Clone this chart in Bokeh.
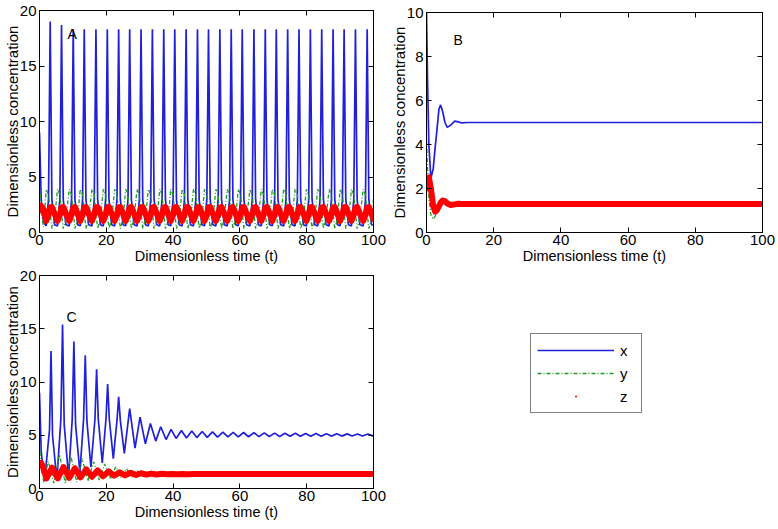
from bokeh.plotting import figure
from bokeh.layouts import row, column
from bokeh.models import Range1d, LinearAxis, FixedTicker, Legend, LegendItem, ColumnDataSource, Label
from bokeh.embed import file_html
from bokeh.resources import INLINE

FONT = "Liberation Sans"
BLUE = "#2020d8"
GREEN = "#1f9f1f"
RED = "#ff0000"

x_ticks = [0, 20, 40, 60, 80, 100]
y_ticks_AC = [0, 5, 10, 15, 20]
y_ticks_B = [0, 2, 4, 6, 8, 10]
legend_labels = ["x", "y", "z"]
panel_names = ["A", "B", "C"]

# ---------------- Panel A (sustained oscillations) ----------------
t_A = [0, 0.5, 1.2,
       2.0, 2.7, 3.2, 3.7, 4.5,
       5.4, 6.1, 6.6, 7.1, 7.9,
       8.9, 9.6, 10.1, 10.6, 11.4,
       12.2, 12.9, 13.4, 13.9, 14.7,
       15.7, 16.4, 16.9, 17.4, 18.2,
       19.1, 19.8, 20.3, 20.8, 21.6,
       22.5, 23.2, 23.7, 24.2, 25.0,
       25.8, 26.5, 27.0, 27.5, 28.3,
       29.2, 29.9, 30.4, 30.9, 31.7,
       32.6, 33.3, 33.8, 34.3, 35.1,
       36.0, 36.7, 37.2, 37.7, 38.5,
       39.3, 40.0, 40.5, 41.0, 41.8,
       42.7, 43.4, 43.9, 44.4, 45.2,
       46.1, 46.8, 47.3, 47.8, 48.6,
       49.4, 50.1, 50.6, 51.1, 51.9,
       52.8, 53.5, 54.0, 54.5, 55.3,
       56.2, 56.9, 57.4, 57.9, 58.7,
       59.5, 60.2, 60.7, 61.2, 62.0,
       63.0, 63.7, 64.2, 64.7, 65.5,
       66.4, 67.1, 67.6, 68.1, 68.9,
       69.7, 70.4, 70.9, 71.4, 72.2,
       73.1, 73.8, 74.3, 74.8, 75.6,
       76.5, 77.2, 77.7, 78.2, 79.0,
       79.9, 80.6, 81.1, 81.6, 82.4,
       83.3, 84.0, 84.5, 85.0, 85.8,
       86.7, 87.4, 87.9, 88.4, 89.2,
       90.0, 90.7, 91.2, 91.7, 92.5,
       93.4, 94.1, 94.6, 95.1, 95.9,
       96.9, 97.6, 98.1, 98.6, 99.4,
       100]
x_A = [9.0, 3.0, 0.9,
       0.6, 3.0, 19.0, 3.0, 0.7,
       0.6, 3.0, 18.7, 3.0, 0.7,
       0.6, 3.0, 18.3, 3.0, 0.7,
       0.6, 3.0, 18.3, 3.0, 0.7,
       0.6, 3.0, 18.3, 3.0, 0.7,
       0.6, 3.0, 18.3, 3.0, 0.7,
       0.6, 3.0, 18.3, 3.0, 0.7,
       0.6, 3.0, 18.3, 3.0, 0.7,
       0.6, 3.0, 18.3, 3.0, 0.7,
       0.6, 3.0, 18.3, 3.0, 0.7,
       0.6, 3.0, 18.3, 3.0, 0.7,
       0.6, 3.0, 18.3, 3.0, 0.7,
       0.6, 3.0, 18.3, 3.0, 0.7,
       0.6, 3.0, 18.3, 3.0, 0.7,
       0.6, 3.0, 18.3, 3.0, 0.7,
       0.6, 3.0, 18.3, 3.0, 0.7,
       0.6, 3.0, 18.3, 3.0, 0.7,
       0.6, 3.0, 18.3, 3.0, 0.7,
       0.6, 3.0, 18.3, 3.0, 0.7,
       0.6, 3.0, 18.3, 3.0, 0.7,
       0.6, 3.0, 18.3, 3.0, 0.7,
       0.6, 3.0, 18.3, 3.0, 0.7,
       0.6, 3.0, 18.3, 3.0, 0.7,
       0.6, 3.0, 18.3, 3.0, 0.7,
       0.6, 3.0, 18.3, 3.0, 0.7,
       0.6, 3.0, 18.3, 3.0, 0.7,
       0.6, 3.0, 18.3, 3.0, 0.7,
       0.6, 3.0, 18.3, 3.0, 0.7,
       0.6, 3.0, 18.3, 3.0, 0.7,
       0.65]
y_A = [4.3, 1.8, 0.5,
       3.9, 3.4, 1.8, 0.35, 1.2,
       3.9, 3.4, 1.8, 0.35, 1.2,
       3.9, 3.4, 1.8, 0.35, 1.2,
       3.9, 3.4, 1.8, 0.35, 1.2,
       3.9, 3.4, 1.8, 0.35, 1.2,
       3.9, 3.4, 1.8, 0.35, 1.2,
       3.9, 3.4, 1.8, 0.35, 1.2,
       3.9, 3.4, 1.8, 0.35, 1.2,
       3.9, 3.4, 1.8, 0.35, 1.2,
       3.9, 3.4, 1.8, 0.35, 1.2,
       3.9, 3.4, 1.8, 0.35, 1.2,
       3.9, 3.4, 1.8, 0.35, 1.2,
       3.9, 3.4, 1.8, 0.35, 1.2,
       3.9, 3.4, 1.8, 0.35, 1.2,
       3.9, 3.4, 1.8, 0.35, 1.2,
       3.9, 3.4, 1.8, 0.35, 1.2,
       3.9, 3.4, 1.8, 0.35, 1.2,
       3.9, 3.4, 1.8, 0.35, 1.2,
       3.9, 3.4, 1.8, 0.35, 1.2,
       3.9, 3.4, 1.8, 0.35, 1.2,
       3.9, 3.4, 1.8, 0.35, 1.2,
       3.9, 3.4, 1.8, 0.35, 1.2,
       3.9, 3.4, 1.8, 0.35, 1.2,
       3.9, 3.4, 1.8, 0.35, 1.2,
       3.9, 3.4, 1.8, 0.35, 1.2,
       3.9, 3.4, 1.8, 0.35, 1.2,
       3.9, 3.4, 1.8, 0.35, 1.2,
       3.9, 3.4, 1.8, 0.35, 1.2,
       3.9, 3.4, 1.8, 0.35, 1.2,
       3.0]
z_A = [2.0, 2.4, 2.1,
       1.05, 1.6, 2.25, 2.3, 1.7,
       1.05, 1.6, 2.25, 2.3, 1.7,
       1.05, 1.6, 2.25, 2.3, 1.7,
       1.05, 1.6, 2.25, 2.3, 1.7,
       1.05, 1.6, 2.25, 2.3, 1.7,
       1.05, 1.6, 2.25, 2.3, 1.7,
       1.05, 1.6, 2.25, 2.3, 1.7,
       1.05, 1.6, 2.25, 2.3, 1.7,
       1.05, 1.6, 2.25, 2.3, 1.7,
       1.05, 1.6, 2.25, 2.3, 1.7,
       1.05, 1.6, 2.25, 2.3, 1.7,
       1.05, 1.6, 2.25, 2.3, 1.7,
       1.05, 1.6, 2.25, 2.3, 1.7,
       1.05, 1.6, 2.25, 2.3, 1.7,
       1.05, 1.6, 2.25, 2.3, 1.7,
       1.05, 1.6, 2.25, 2.3, 1.7,
       1.05, 1.6, 2.25, 2.3, 1.7,
       1.05, 1.6, 2.25, 2.3, 1.7,
       1.05, 1.6, 2.25, 2.3, 1.7,
       1.05, 1.6, 2.25, 2.3, 1.7,
       1.05, 1.6, 2.25, 2.3, 1.7,
       1.05, 1.6, 2.25, 2.3, 1.7,
       1.05, 1.6, 2.25, 2.3, 1.7,
       1.05, 1.6, 2.25, 2.3, 1.7,
       1.05, 1.6, 2.25, 2.3, 1.7,
       1.05, 1.6, 2.25, 2.3, 1.7,
       1.05, 1.6, 2.25, 2.3, 1.7,
       1.05, 1.6, 2.25, 2.3, 1.7,
       1.05, 1.6, 2.25, 2.3, 1.7,
       1.2]

# ---------------- Panel B (fast damping to steady state) ----------------
t_B = [0, 0.3, 0.7, 1.3, 2.0, 2.6, 3.0, 3.7, 4.2, 4.8, 5.5, 6.2, 7.2, 8.4, 9.5, 10.5, 12.0, 100]
x_B = [10.0, 7.0, 4.0, 2.45, 2.9, 3.9, 4.5, 5.6, 5.8, 5.5, 5.0, 4.78, 4.88, 5.06, 5.03, 4.98, 5.0, 5.0]
y_B = [4.2, 3.0, 1.6, 0.8, 0.6, 0.75, 0.95, 1.35, 1.5, 1.55, 1.45, 1.3, 1.22, 1.27, 1.31, 1.3, 1.3, 1.3]
z_B = [2.0, 2.45, 2.5, 2.0, 1.2, 0.95, 1.0, 1.2, 1.35, 1.45, 1.42, 1.32, 1.25, 1.28, 1.31, 1.3, 1.3, 1.3]

# ---------------- Panel C (damped oscillations) ----------------
t_Cx = [0, 0.5, 1.5, 3.0, 3.45, 3.9, 5.2, 6.4, 6.9, 7.4, 8.7, 9.8, 10.3, 10.8, 12.1,
        13.2, 13.7, 14.2, 15.4, 16.6, 17.1, 17.6, 18.8, 19.9, 20.4, 20.9, 22.1,
        23.2, 23.7, 24.2, 25.4, 27.0, 28.6, 30.1, 31.7, 33.2, 34.8, 36.3, 37.9,
        39.4, 40.9, 42.5, 44.0, 45.6, 47.1, 48.7, 50.2, 51.8, 53.3, 54.9, 56.4,
        58.0, 59.5, 61.1, 62.6, 64.2, 65.7, 67.3, 68.8, 70.4, 71.9, 73.5, 75.0,
        76.6, 78.1, 79.7, 81.2, 82.8, 84.3, 85.9, 87.4, 89.0, 90.5, 92.1, 93.6,
        95.2, 96.7, 98.3, 99.8, 100]
x_C = [9.0, 3.5, 0.7, 5.5, 12.9, 5.0, 0.8, 6.5, 15.4, 6.0, 1.1, 6.5, 13.8, 6.0, 1.5,
       6.5, 12.5, 6.3, 2.0, 6.5, 11.2, 6.5, 2.4, 6.5, 9.8, 6.5, 2.8,
       6.4, 8.6, 6.4, 3.3, 7.5, 3.8, 6.7, 4.2, 6.1, 4.45, 5.8, 4.6,
       5.55, 4.7, 5.45, 4.75, 5.4, 4.78, 5.35, 4.8, 5.32, 4.82, 5.3, 4.84,
       5.28, 4.85, 5.26, 4.86, 5.24, 4.87, 5.22, 4.88, 5.2, 4.89, 5.19, 4.9,
       5.18, 4.9, 5.17, 4.91, 5.16, 4.91, 5.15, 4.92, 5.14, 4.92, 5.13, 4.93,
       5.12, 4.93, 5.12, 4.94, 4.95]
t_Cy = [0, 0.5, 1.3, 2.6, 3.45, 4.3, 6.0, 6.9, 7.7, 9.4, 10.3, 11.1, 12.8, 13.7, 14.5,
        16.2, 17.1, 17.9, 19.5, 20.4, 21.2, 22.8, 23.7, 24.5, 26.1, 27.0, 27.8,
        29.2, 30.1, 30.9, 32.3, 33.2, 34.0, 35.4, 37.1, 38.5, 40.2, 41.6, 43.3, 46.0, 100]
y_C = [4.3, 1.8, 0.6, 2.55, 1.6, 0.5, 3.2, 1.8, 0.5, 3.0, 1.8, 0.6, 2.8, 1.7, 0.7,
       2.5, 1.6, 0.8, 2.3, 1.55, 0.9, 2.05, 1.5, 1.0, 1.85, 1.4, 1.1,
       1.7, 1.35, 1.15, 1.55, 1.3, 1.2, 1.45, 1.25, 1.4, 1.27, 1.36, 1.29, 1.32, 1.32]
t_Cz = [0, 0.5, 1.2, 2.1, 3.75, 5.45, 7.2, 8.9, 10.6, 12.3, 14.0, 15.7, 17.4, 19.0,
        20.7, 22.3, 24.0, 25.6, 27.3, 28.9, 30.4, 32.0, 33.5, 35.1, 36.6, 38.2,
        39.7, 41.3, 42.8, 44.4, 46.0, 100]
z_C = [2.2, 2.4, 1.9, 0.95, 1.95, 0.95, 2.0, 1.0, 1.9, 1.05, 1.8, 1.1, 1.7, 1.15,
       1.6, 1.2, 1.52, 1.24, 1.47, 1.27, 1.43, 1.3, 1.4, 1.32, 1.38, 1.33,
       1.37, 1.34, 1.36, 1.345, 1.355, 1.35]

# panel annotation positions (data units)
label_t = [9.8, 9.4, 9.6]
label_v = [17.9, 8.74, 16.1]

# off-screen sample points that only feed the legend glyphs
legend_dummy_x = [-10.0, -9.0]
legend_dummy_y = [-10.0, -10.0]


def style_axis(ax, ticks, show_labels, font_size="15px"):
    ax.ticker = FixedTicker(ticks=ticks)
    ax.major_tick_in = 5
    ax.major_tick_out = 0
    ax.minor_tick_line_color = None
    ax.axis_line_color = "black"
    ax.major_tick_line_color = "black"
    ax.major_label_text_font = FONT
    if show_labels:
        ax.major_label_text_font_size = font_size
        ax.major_label_text_color = "black"
    else:
        ax.major_label_text_font_size = "1px"
        ax.major_label_text_color = None
        ax.major_label_standoff = 0


def make_panel(w, h, ymax, yticks, borders, t_x, xs, t_y, ys, t_z, zs, name, lt, lv,
               margin=None):
    left, right, top, bottom = borders
    p = figure(width=w, height=h, x_range=Range1d(0, 100), y_range=Range1d(0, ymax),
               output_backend="svg", toolbar_location=None,
               min_border_left=left, min_border_right=right,
               min_border_top=top, min_border_bottom=bottom)
    if margin is not None:
        p.margin = margin
    p.xgrid.visible = False
    p.ygrid.visible = False
    p.outline_line_color = "black"
    p.background_fill_color = "white"
    p.border_fill_color = "white"

    xa = p.below[0]
    ya = p.left[0]
    style_axis(xa, x_ticks, True)
    style_axis(ya, yticks, True)
    xa.major_label_standoff = 2
    ya.major_label_standoff = 3
    xa.axis_label = "Dimensionless time (t)"
    ya.axis_label = "Dimensionless concentration"
    xa.axis_label_text_font = FONT
    ya.axis_label_text_font = FONT
    xa.axis_label_text_font_style = "normal"
    ya.axis_label_text_font_style = "normal"
    xa.axis_label_text_font_size = "14.5px"
    ya.axis_label_text_font_size = "15px"
    xa.axis_label_text_color = "black"
    ya.axis_label_text_color = "black"
    xa.axis_label_standoff = 0
    ya.axis_label_standoff = -4

    top_ax = LinearAxis()
    style_axis(top_ax, x_ticks, False)
    p.add_layout(top_ax, "above")
    right_ax = LinearAxis()
    style_axis(right_ax, yticks, False)
    p.add_layout(right_ax, "right")

    p.line(t_x, xs, line_color=BLUE, line_width=1.7)
    p.line(t_y, ys, line_color=GREEN, line_width=1.3, line_dash="4 2 1 2")
    p.line(t_z, zs, line_color=RED, line_width=6, line_join="round", line_cap="round")

    p.add_layout(Label(x=lt, y=lv, text=name, text_font=FONT, text_font_size="14px",
                       text_align="center", text_baseline="middle", text_color="black"))
    return p


pA = make_panel(387, 271, 20, y_ticks_AC, (38, 14, 10, 39),
                t_A, x_A, t_A, y_A, t_A, z_A, panel_names[0], label_t[0], label_v[0])
pB = make_panel(391, 271, 10, y_ticks_B, (38, 16, 12, 39),
                t_B, x_B, t_B, y_B, t_B, z_B, panel_names[1], label_t[1], label_v[1])
pC = make_panel(387, 262, 20, y_ticks_AC, (38, 14, 8, 41),
                t_Cx, x_C, t_Cy, y_C, t_Cz, z_C, panel_names[2], label_t[2], label_v[2],
                margin=(-4, 0, 0, 0))

# ---------------- Legend panel ----------------
pL = figure(width=391, height=262, x_range=Range1d(0, 1), y_range=Range1d(0, 1),
            output_backend="svg", toolbar_location=None, min_border=0,
            x_axis_location=None, y_axis_location=None)
pL.margin = (-4, 0, 0, 0)
pL.xgrid.visible = False
pL.ygrid.visible = False
pL.outline_line_color = None
dummy = ColumnDataSource(data=dict(x=legend_dummy_x, y=legend_dummy_y))
r1 = pL.line("x", "y", source=dummy, line_color=BLUE, line_width=1.3)
r2 = pL.line("x", "y", source=dummy, line_color=GREEN, line_width=1.3, line_dash="4 2 1 2")
r3 = pL.scatter("x", "y", source=dummy, marker="dot", line_color=RED, fill_color=RED, size=4)
leg = Legend(items=[LegendItem(label=legend_labels[0], renderers=[r1]),
                    LegendItem(label=legend_labels[1], renderers=[r2]),
                    LegendItem(label=legend_labels[2], renderers=[r3])],
             location=(104, 116))
leg.border_line_color = "black"
leg.border_line_width = 1
leg.background_fill_color = "white"
leg.padding = 6
leg.spacing = 3
leg.margin = 0
leg.glyph_width = 77
leg.glyph_height = 20
leg.label_height = 20
leg.label_width = 15
leg.label_standoff = 6
leg.label_text_font = FONT
leg.label_text_font_size = "15px"
leg.label_text_color = "black"
pL.add_layout(leg)

layout = row(column(pA, pC), column(pB, pL))

open("out.html", "w").write(file_html(layout, INLINE))
